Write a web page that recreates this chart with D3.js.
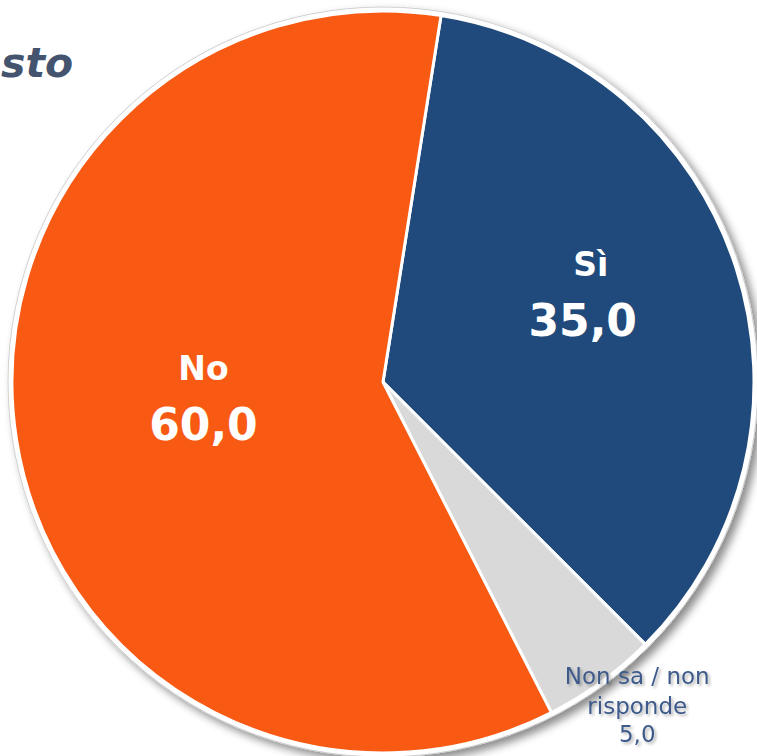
<!DOCTYPE html>
<html>
<head>
<meta charset="utf-8">
<script src="https://cdn.jsdelivr.net/npm/d3@7"></script>
<style>
    html, body {margin: 0; padding: 0; background: #fff;}
    svg {display: block;}
</style>
</head>
<body>
<div id="chartdiv"></div>
<script>
/*global d3 */

var categories = ["Sì", "Non sa / non risponde", "No"],
    values = [35.0, 5.0, 60.0],
    valueLabels = ["35,0", "5,0", "60,0"];

(function () {
    "use strict";

    var W = 757, H = 756,
        cx = 383, cy = 382, rad = 371,
        startAngle = 9 * Math.PI / 180,
        font = "'DejaVu Sans', Lato, sans-serif",
        colors = {"Sì": "#204a7b", "Non sa / non risponde": "#d9d9d9",
                  "No": "#f85a14"},
        svg, defs, pie, arc, arcs, g;

    svg = d3.select("#chartdiv").append("svg")
        .attr("width", W)
        .attr("height", H);

    defs = svg.append("defs");
    defs.append("filter")
        .attr("id", "shadow")
        .attr("x", "-10%").attr("y", "-10%")
        .attr("width", "130%").attr("height", "130%")
        .append("feDropShadow")
        .attr("dx", 5).attr("dy", 5)
        .attr("stdDeviation", 4)
        .attr("flood-color", "#000")
        .attr("flood-opacity", 0.45);
    defs.append("filter")
        .attr("id", "txtshadow")
        .append("feDropShadow")
        .attr("dx", 2).attr("dy", 2)
        .attr("stdDeviation", 1.5)
        .attr("flood-color", "#000")
        .attr("flood-opacity", 0.3);

    //cut-off title fragment at the top left
    svg.append("text")
        .attr("x", 1)
        .attr("y", 77)
        .attr("font-family", font)
        .attr("font-size", 41)
        .attr("font-weight", "bold")
        .attr("font-style", "italic")
        .attr("fill", "#44546f")
        .text("sto");

    g = svg.append("g")
        .attr("transform", "translate(" + cx + "," + cy + ")");

    //outer ring with the drop shadow behind the slices
    g.append("circle")
        .attr("r", rad + 4)
        .attr("fill", "#fff")
        .attr("stroke", "#d0d0d0")
        .attr("stroke-width", 1)
        .attr("filter", "url(#shadow)");

    pie = d3.pie()
        .sort(null)
        .startAngle(startAngle)
        .endAngle(startAngle + 2 * Math.PI)
        .value(function (d) { return d; });
    arc = d3.arc().innerRadius(0).outerRadius(rad);
    arcs = pie(values);

    g.selectAll("path.slice")
        .data(arcs)
        .enter().append("path")
        .attr("class", "slice")
        .attr("d", arc)
        .attr("fill", function (d, i) { return colors[categories[i]]; })
        .attr("stroke", "#fff")
        .attr("stroke-width", 3)
        .attr("stroke-linejoin", "round");

    function labelPos(d, f) {
        var a = (d.startAngle + d.endAngle) / 2;
        return [Math.sin(a) * rad * f, -Math.cos(a) * rad * f];
    }

    //inside labels (big slices)
    var inside = [{i: 0, f: 0.6, dx: -12, dy: -13},
                  {i: 2, f: 0.49, dx: 0, dy: -6}];
    inside.forEach(function (o) {
        var p = labelPos(arcs[o.i], o.f),
            t = g.append("text")
                .attr("text-anchor", "middle")
                .attr("font-family", font)
                .attr("font-weight", "bold")
                .attr("fill", "#fff");
        p = [p[0] + o.dx, p[1] + o.dy];
        t.append("tspan")
            .attr("x", p[0] + (o.i === 0 ? 8 : 0))
            .attr("y", p[1] - 24)
            .attr("font-size", 33)
            .text(categories[o.i]);
        t.append("tspan")
            .attr("x", p[0])
            .attr("y", p[1] + 36)
            .attr("font-size", 44)
            .text(valueLabels[o.i]);
    });

    //outside label for the small slice
    (function () {
        var p = labelPos(arcs[1], 1.12),
            t = g.append("text")
                .attr("text-anchor", "middle")
                .attr("font-family", font)
                .attr("font-size", 23)
                .attr("fill", "#3d5a8a")
                .attr("filter", "url(#txtshadow)");
        p = [p[0] + 10, p[1] - 5];
        t.append("tspan").attr("x", p[0]).attr("y", p[1] - 29)
            .text("Non sa / non");
        t.append("tspan").attr("x", p[0]).attr("y", p[1] + 1)
            .text("risponde");
        t.append("tspan").attr("x", p[0]).attr("y", p[1] + 29)
            .text(valueLabels[1]);
    }());
}());
</script>
</body>
</html>
